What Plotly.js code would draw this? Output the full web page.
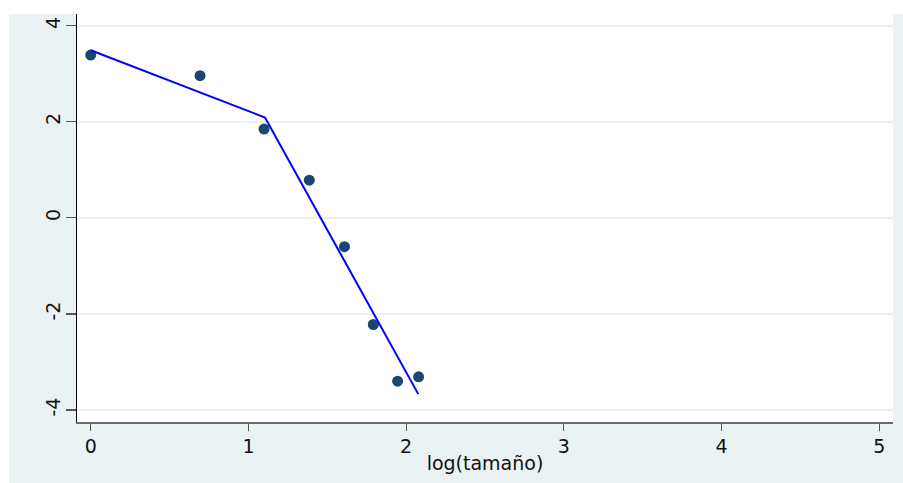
<!DOCTYPE html>
<html>
<head>
<meta charset="utf-8">
<script src="https://cdn.plot.ly/plotly-3.0.1.min.js"></script>
<style>
  html, body { margin: 0; padding: 0; background: #ffffff; }
  #outer { position: absolute; left: 9px; top: 14px; width: 894px; height: 469px; background: #eaf2f3; }
  #chart { position: absolute; left: 0; top: 0; width: 903px; height: 483px; }
</style>
</head>
<body>
<div id="outer"></div>
<div id="chart"></div>
<script>
// Observed points: log(size) vs log(value)
const logSize  = [0, 0.693, 1.099, 1.386, 1.609, 1.792, 1.946, 2.079];
const logValue = [3.39, 2.96, 1.85, 0.785, -0.60, -2.22, -3.40, -3.31];

// Piecewise linear fit (two segments joined at a knot)
const fitX = [0, 1.105, 2.077];
const fitY = [3.49, 2.09, -3.67];

const xTicks = [0, 1, 2, 3, 4, 5];
const yTicks = [-4, -2, 0, 2, 4];
const xTitle = 'log(tamaño)';

const traces = [
  {
    x: logSize, y: logValue, type: 'scatter', mode: 'markers',
    marker: { color: '#1a476f', size: 11 },
    showlegend: false, hoverinfo: 'x+y'
  },
  {
    x: fitX, y: fitY, type: 'scatter', mode: 'lines',
    line: { color: '#0000ff', width: 2 },
    showlegend: false, hoverinfo: 'x+y'
  }
];

const layout = {
  width: 903, height: 483,
  margin: { l: 77, r: 10, t: 14, b: 61, pad: 0 },
  paper_bgcolor: 'rgba(0,0,0,0)',
  plot_bgcolor: '#ffffff',
  font: { family: 'DejaVu Sans, Liberation Sans, Arial, sans-serif', color: '#111111' },
  xaxis: {
    range: [-0.087, 5.087],
    tickvals: xTicks, ticktext: xTicks.map(String),
    showgrid: false, zeroline: false,
    showline: true, linecolor: '#6a6a6a', linewidth: 1.5,
    ticks: 'outside', ticklen: 7, tickwidth: 1, tickcolor: '#555555',
    tickfont: { size: 19, color: '#111111' },
    title: { text: xTitle, font: { size: 19, color: '#111111' }, standoff: 0 },
    automargin: false
  },
  yaxis: {
    range: [-4.25, 4.245],
    tickvals: yTicks, ticktext: yTicks.map(String),
    tickangle: -90,
    ticklabelstandoff: -2,
    showgrid: true, gridcolor: '#eaf2f3', gridwidth: 1.5,
    zeroline: false,
    showline: true, linecolor: '#000000', linewidth: 1.5,
    ticks: 'outside', ticklen: 10, tickwidth: 1.2, tickcolor: '#555555',
    tickfont: { size: 19, color: '#111111' },
    automargin: false
  }
};

Plotly.newPlot('chart', traces, layout, { displayModeBar: false, staticPlot: true });
</script>
</body>
</html>
